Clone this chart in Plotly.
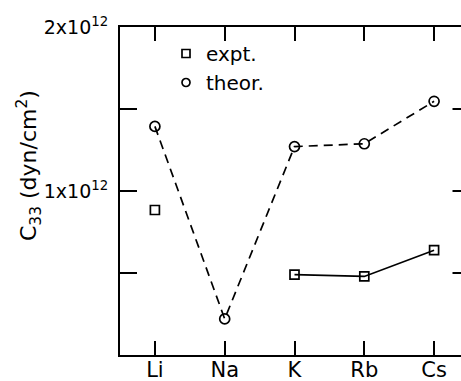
import plotly.graph_objects as go

# Alkali metals and elastic constant C33 (dyn/cm^2)
metals = ["Li", "Na", "K", "Rb", "Cs"]
positions = [1, 2, 3, 4, 5]
c33_expt = [0.884e12, None, 0.490e12, 0.479e12, 0.639e12]
c33_theor = [1.394e12, 0.220e12, 1.271e12, 1.288e12, 1.547e12]

y_tick_vals = [0.5e12, 1.0e12, 1.5e12, 2.0e12]
y_tick_text = ["", "1x10<sup>12</sup>", "", "2x10<sup>12</sup>"]

FONT = "DejaVu Sans, Verdana, sans-serif"
INK = "black"

fig = go.Figure()

# theoretical values: open circles joined by a dashed line
fig.add_trace(go.Scatter(
    x=positions, y=c33_theor, mode="lines+markers", showlegend=False,
    line=dict(color=INK, width=1.7, dash="9px,6px"),
    marker=dict(symbol="circle-open", size=10, color=INK, line=dict(width=1.7)),
))
# experimental values: open squares, solid line where consecutive
fig.add_trace(go.Scatter(
    x=positions, y=c33_expt, mode="lines+markers", showlegend=False,
    connectgaps=False,
    line=dict(color=INK, width=1.7),
    marker=dict(symbol="square-open", size=9, color=INK, line=dict(width=1.7)),
))

# legend keys (marker only)
fig.add_trace(go.Scatter(
    x=[None], y=[None], mode="markers", name="expt.", legendgroup="a",
    marker=dict(symbol="square-open", size=8, color=INK, line=dict(width=1.7)),
))
fig.add_trace(go.Scatter(
    x=[None], y=[None], mode="markers", name="theor.", legendgroup="b",
    marker=dict(symbol="circle-open", size=8, color=INK, line=dict(width=1.7)),
))

# right-hand tick marks of the frame
for v in y_tick_vals[:-1]:
    fig.add_shape(type="line", xref="paper", yref="y",
                  x0=(452.5 - 120) / 341, x1=1.0, y0=v, y1=v,
                  line=dict(color=INK, width=2))

# vertical axis title
fig.add_annotation(
    text="C<sub>33</sub> (dyn/cm<sup>2</sup>)", textangle=-90,
    xref="paper", yref="paper", x=(29 - 120) / 341, y=(355 - 166) / 328,
    xanchor="center", yanchor="middle", showarrow=False,
    font=dict(family=FONT, size=22, color=INK),
)

spacing = 69.8
fig.update_layout(
    width=461, height=381,
    margin=dict(l=120, r=0, t=27, b=26, autoexpand=False),
    paper_bgcolor="white", plot_bgcolor="white",
    font=dict(family=FONT, color=INK),
    legend=dict(
        x=(166 - 120) / 341, y=(355 - 34) / 328, xanchor="left", yanchor="top",
        bgcolor="rgba(0,0,0,0)", font=dict(family=FONT, size=20, color=INK),
        tracegroupgap=0, itemwidth=30,
    ),
    xaxis=dict(
        range=[0.5, 0.5 + 341 / spacing], automargin=False,
        tickvals=positions, ticktext=metals,
        ticks="inside", ticklen=14, tickwidth=2, tickcolor=INK,
        showline=True, linecolor=INK, linewidth=2, mirror="ticks",
        showgrid=False, zeroline=False,
        tickfont=dict(family=FONT, size=21, color=INK),
        ticklabelstandoff=-5,
    ),
    yaxis=dict(
        range=[0, 2.0e12], automargin=False,
        tickvals=y_tick_vals, ticktext=y_tick_text,
        ticks="inside", ticklen=17, tickwidth=2, tickcolor=INK,
        showline=True, linecolor=INK, linewidth=2, mirror=False,
        showgrid=False, zeroline=False,
        tickfont=dict(family=FONT, size=19, color=INK),
        ticklabelstandoff=6,
    ),
)

fig.write_html("out.html")
